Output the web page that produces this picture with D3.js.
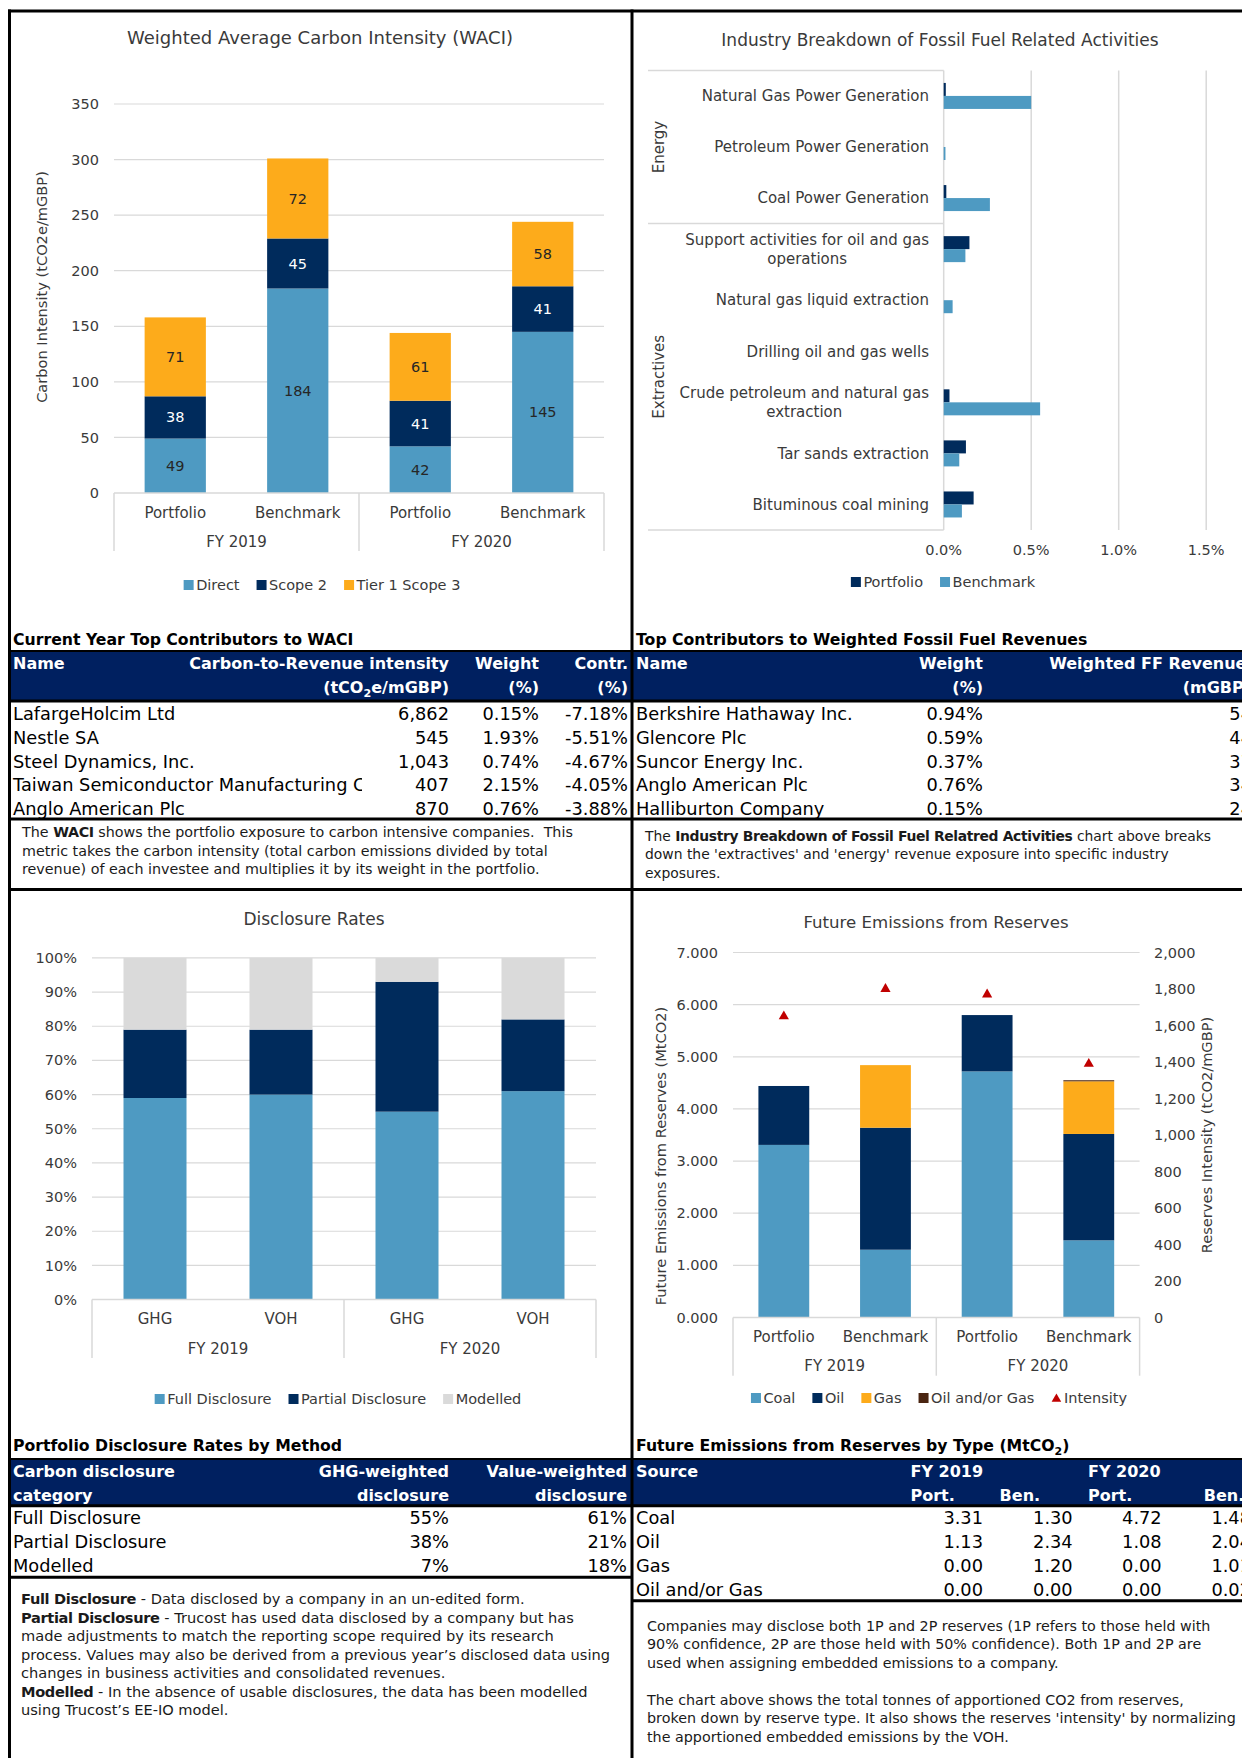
<!DOCTYPE html>
<html>
<head>
<meta charset="utf-8">
<title>Carbon metrics</title>
<script src="https://cdn.jsdelivr.net/npm/d3@7/dist/d3.min.js"></script>
<style>
  body { margin: 0; background: #fff; }
  svg { display: block; }
  text { white-space: pre; }
</style>
</head>
<body>
<script>
// ---------- chart values ----------
var waciGroups = ["FY 2019", "FY 2020"];
var waciBars = ["Portfolio", "Benchmark", "Portfolio", "Benchmark"];
var waciSeries = ["Direct", "Scope 2", "Tier 1 Scope 3"];
var waciDirect = [49, 184, 42, 145];
var waciScope2 = [38, 45, 41, 41];
var waciScope3 = [71, 72, 61, 58];

var industryLabels = ["Natural Gas Power Generation", "Petroleum Power Generation", "Coal Power Generation",
  "Support activities for oil and gas operations", "Natural gas liquid extraction", "Drilling oil and gas wells",
  "Crude petroleum and natural gas extraction", "Tar sands extraction", "Bituminous coal mining"];
var industryGroups = ["Energy", "Extractives"];
var industryGroupSize = [3, 6];
var industrySeries = ["Portfolio", "Benchmark"];
var industryPortfolio = [0.012, 0, 0.015, 0.147, 0, 0, 0.033, 0.127, 0.171];
var industryBenchmark = [0.50, 0.01, 0.264, 0.124, 0.051, 0, 0.551, 0.089, 0.104];
var industryTicks = [0, 0.5, 1.0, 1.5];

var discGroups = ["FY 2019", "FY 2020"];
var discBars = ["GHG", "VOH", "GHG", "VOH"];
var discSeries = ["Full Disclosure", "Partial Disclosure", "Modelled"];
var discFull = [59, 60, 55, 61];
var discPartial = [20, 19, 38, 21];
var discModelled = [21, 21, 7, 18];

var resGroups = ["FY 2019", "FY 2020"];
var resBars = ["Portfolio", "Benchmark", "Portfolio", "Benchmark"];
var resSeries = ["Coal", "Oil", "Gas", "Oil and/or Gas"];
var resCoal = [3.31, 1.30, 4.72, 1.48];
var resOil = [1.13, 2.34, 1.08, 2.04];
var resGas = [0.00, 1.20, 0.00, 1.01];
var resOilGas = [0.00, 0.00, 0.00, 0.02];
var resIntensity = [1650, 1800, 1770, 1390];

// ---------- table values ----------
var waciTopNames = ["LafargeHolcim Ltd", "Nestle SA", "Steel Dynamics, Inc.", "Taiwan Semiconductor Manufacturing Co., Ltd.", "Anglo American Plc"];
var waciTopIntensity = ["6,862", "545", "1,043", "407", "870"];
var waciTopWeight = ["0.15%", "1.93%", "0.74%", "2.15%", "0.76%"];
var waciTopContr = ["-7.18%", "-5.51%", "-4.67%", "-4.05%", "-3.88%"];

var ffNames = ["Berkshire Hathaway Inc.", "Glencore Plc", "Suncor Energy Inc.", "Anglo American Plc", "Halliburton Company"];
var ffWeight = ["0.94%", "0.59%", "0.37%", "0.76%", "0.15%"];
var ffRevenue = ["54", "44", "37", "34", "24"];

var discCategories = ["Full Disclosure", "Partial Disclosure", "Modelled"];
var discGhgWeighted = ["55%", "38%", "7%"];
var discValueWeighted = ["61%", "21%", "18%"];

// ---------- page ----------
var W = 1242, H = 1758;
var ink = "#3a3a3a", gridCol = "#D9D9D9";
var cBlue = "#4E9AC2", cNavy = "#002B5C", cOrange = "#FDAB1B", cGrey = "#DADADA",
    cBrown = "#4A2511", cRed = "#C00000", cHead = "#002060";
var axisSize = 15, legendSize = 14.5, bodySize = 17.8, noteSize = 14.3;

var svg = d3.select("body").append("svg")
  .attr("width", W).attr("height", H)
  .style("font-family", '"DejaVu Sans", sans-serif');
svg.append("rect").attr("width", W).attr("height", H).attr("fill", "#fff");

function label(g, x, y, s, size, opt) {
  opt = opt || {};
  var t = g.append("text").attr("x", x).attr("y", y).attr("dy", "0.35em")
    .attr("font-size", size).attr("fill", opt.fill || ink)
    .attr("text-anchor", opt.anchor || "start");
  if (opt.bold) t.attr("font-weight", "bold");
  if (opt.rotate) t.attr("transform", "rotate(-90," + x + "," + y + ")");
  if (typeof s === "string") t.text(s); else parts(t, s);
  return t;
}

// parts: list of [text, kind] where kind "sub" = subscript, "b" = bold
function parts(t, list) {
  var shift = 0;
  list.forEach(function (p) {
    var ts = t.append("tspan").text(p[0]);
    if (p[1] === "sub") { ts.attr("dy", 4).attr("font-size", "0.7em"); shift = 4; }
    else if (shift) { ts.attr("dy", -shift); shift = 0; }
    if (p[1] === "b") ts.attr("font-weight", "bold").attr("letter-spacing", -0.35);
  });
}

function legend(cx, cy, items) {
  var g = svg.append("g");
  var pos = 0;
  items.forEach(function (it) {
    var ig = g.append("g").attr("transform", "translate(" + pos + ",0)");
    if (it.tri) {
      ig.append("path").attr("d", d3.symbol(d3.symbolTriangle, 40)())
        .attr("transform", "translate(5,1)").attr("fill", it.color);
    } else {
      ig.append("rect").attr("x", 0).attr("y", -5).attr("width", 10).attr("height", 10).attr("fill", it.color);
    }
    var t = label(ig, 12.5, 0, it.name, legendSize);
    pos += 12.5 + t.node().getComputedTextLength() + 17;
  });
  g.attr("transform", "translate(" + (cx - (pos - 17) / 2) + "," + cy + ")");
}

function stackedColumns(c) {
  var g = svg.append("g");
  var x = d3.scaleBand().domain(d3.range(c.bars.length)).range([c.x0, c.x1])
    .paddingInner(0.5).paddingOuter(0.25);
  var y = d3.scaleLinear().domain([0, c.max]).range([c.yBase, c.yTop]);

  g.selectAll("line.grid").data(c.ticks.filter(function (d) { return d > 0; })).join("line")
    .attr("class", "grid")
    .attr("x1", c.x0).attr("x2", c.x1)
    .attr("y1", function (d) { return y(d); }).attr("y2", function (d) { return y(d); })
    .attr("stroke", gridCol).attr("stroke-width", 1.2);

  g.selectAll("text.tick").data(c.ticks).join("text")
    .attr("class", "tick")
    .attr("x", c.tickX).attr("y", function (d) { return y(d); }).attr("dy", "0.35em")
    .attr("text-anchor", "end").attr("font-size", 14.5).attr("fill", ink)
    .text(c.tickFmt);

  var rows = c.bars.map(function (b, i) {
    var o = { i: i };
    c.keys.forEach(function (k, j) { o[k] = c.values[j][i]; });
    return o;
  });
  var stacked = d3.stack().keys(c.keys)(rows);

  var layer = g.selectAll("g.layer").data(stacked).join("g")
    .attr("class", "layer")
    .attr("fill", function (d, j) { return c.colors[j]; });
  layer.selectAll("rect").data(function (d) { return d; }).join("rect")
    .attr("x", function (d) { return x(d.data.i); })
    .attr("width", x.bandwidth())
    .attr("y", function (d) { return y(d[1]); })
    .attr("height", function (d) { return y(d[0]) - y(d[1]); });

  if (c.labelFill) {
    stacked.forEach(function (s, j) {
      g.selectAll(null).data(s.filter(function (d) { return d[1] - d[0] > 0; })).join("text")
        .attr("x", function (d) { return x(d.data.i) + x.bandwidth() / 2; })
        .attr("y", function (d) { return y((d[0] + d[1]) / 2); })
        .attr("dy", "0.35em").attr("text-anchor", "middle")
        .attr("font-size", 14.5).attr("fill", c.labelFill[j])
        .text(function (d) { return d3.format("d")(d[1] - d[0]); });
    });
  }

  g.append("line").attr("x1", c.x0).attr("x2", c.x1).attr("y1", c.yBase).attr("y2", c.yBase)
    .attr("stroke", gridCol).attr("stroke-width", 1.5);
  g.selectAll("text.cat").data(c.bars).join("text")
    .attr("class", "cat")
    .attr("x", function (d, i) { return x(i) + x.bandwidth() / 2; })
    .attr("y", c.catY).attr("dy", "0.35em").attr("text-anchor", "middle")
    .attr("font-size", axisSize).attr("fill", ink).text(function (d) { return d; });

  var span = (c.x1 - c.x0) / c.groups.length;
  g.selectAll("text.grp").data(c.groups).join("text")
    .attr("class", "grp")
    .attr("x", function (d, i) { return c.x0 + span * (i + 0.5); })
    .attr("y", c.grpY).attr("dy", "0.35em").attr("text-anchor", "middle")
    .attr("font-size", axisSize).attr("fill", ink).text(function (d) { return d; });
  g.selectAll("line.sep").data(d3.range(c.groups.length + 1)).join("line")
    .attr("class", "sep")
    .attr("x1", function (i) { return c.x0 + span * i; })
    .attr("x2", function (i) { return c.x0 + span * i; })
    .attr("y1", c.yBase).attr("y2", c.sepBottom)
    .attr("stroke", gridCol).attr("stroke-width", 1.5);

  return { g: g, x: x, y: y };
}

// ---------- WACI ----------
var waci = stackedColumns({
  x0: 114, x1: 604, yBase: 493, yTop: 104, max: 350,
  ticks: d3.range(0, 351, 50), tickFmt: d3.format("d"), tickX: 99,
  bars: waciBars, groups: waciGroups, keys: waciSeries,
  values: [waciDirect, waciScope2, waciScope3],
  colors: [cBlue, cNavy, cOrange], labelFill: ["#262626", "#fff", "#262626"],
  catY: 513, grpY: 542, sepBottom: 551
});
label(svg, 320, 38, "Weighted Average Carbon Intensity (WACI)", 18, { anchor: "middle" });
label(svg, 42, 287, "Carbon Intensity (tCO2e/mGBP)", 14.6, { anchor: "middle", rotate: true });
legend(322, 585, waciSeries.map(function (s, i) { return { name: s, color: [cBlue, cNavy, cOrange][i] }; }));

// ---------- Industry breakdown ----------
var ind = svg.append("g");
var iy = d3.scaleBand().domain(d3.range(industryLabels.length)).range([70.4, 530]);
var ix = d3.scaleLinear().domain([0, 1.5]).range([943.7, 1206.2]);
var barH = 13;

ind.selectAll("line.grid").data(industryTicks).join("line")
  .attr("class", "grid")
  .attr("x1", function (d) { return ix(d); }).attr("x2", function (d) { return ix(d); })
  .attr("y1", 70.4).attr("y2", 530)
  .attr("stroke", gridCol).attr("stroke-width", 1.5);

var bounds = [0].concat(Array.from(d3.cumsum(industryGroupSize)));
ind.selectAll("line.frame").data(bounds).join("line")
  .attr("class", "frame")
  .attr("x1", 648).attr("x2", ix(0))
  .attr("y1", function (k) { return 70.4 + k * iy.step(); })
  .attr("y2", function (k) { return 70.4 + k * iy.step(); })
  .attr("stroke", gridCol).attr("stroke-width", 1.5);

ind.selectAll("text.tick").data(industryTicks).join("text")
  .attr("class", "tick")
  .attr("x", function (d) { return ix(d); }).attr("y", 550).attr("dy", "0.35em")
  .attr("text-anchor", "middle").attr("font-size", 14.5).attr("fill", ink)
  .text(function (d) { return d3.format(".1f")(d) + "%"; });

ind.selectAll("rect.port").data(industryPortfolio).join("rect")
  .attr("class", "port")
  .attr("x", ix(0)).attr("y", function (d, i) { return iy(i) + iy.bandwidth() / 2 - barH; })
  .attr("width", function (d) { return ix(d) - ix(0); }).attr("height", barH)
  .attr("fill", cNavy);
ind.selectAll("rect.bench").data(industryBenchmark).join("rect")
  .attr("class", "bench")
  .attr("x", ix(0)).attr("y", function (d, i) { return iy(i) + iy.bandwidth() / 2; })
  .attr("width", function (d) { return ix(d) - ix(0); }).attr("height", barH)
  .attr("fill", cBlue);

// category labels, wrapped at 265px and centred on their widest line
industryLabels.forEach(function (name, i) {
  var cy = iy(i) + iy.bandwidth() / 2;
  var probe = label(ind, 0, 0, "", axisSize);
  var words = name.split(" "), lines = [], cur = "";
  words.forEach(function (w) {
    var test = cur ? cur + " " + w : w;
    probe.text(test);
    if (probe.node().getComputedTextLength() > 265 && cur) { lines.push(cur); cur = w; }
    else cur = test;
  });
  lines.push(cur);
  probe.text(lines[0]);
  var wMax = probe.node().getComputedTextLength();
  probe.remove();
  if (lines.length === 1) {
    label(ind, 929, cy, name, axisSize, { anchor: "end" });
  } else {
    lines.forEach(function (ln, k) {
      label(ind, 929 - wMax / 2, cy + (k - (lines.length - 1) / 2) * 19, ln, axisSize, { anchor: "middle" });
    });
  }
});

industryGroups.forEach(function (gname, k) {
  var mid = 70.4 + (bounds[k] + bounds[k + 1]) / 2 * iy.step();
  label(ind, 659, mid, gname, axisSize, { anchor: "middle", rotate: true });
});
label(svg, 940, 40, "Industry Breakdown of Fossil Fuel Related Activities", 17, { anchor: "middle" });
legend(943, 582, industrySeries.map(function (s, i) { return { name: s, color: [cNavy, cBlue][i] }; }));

// ---------- Disclosure rates ----------
stackedColumns({
  x0: 92, x1: 596, yBase: 1299.6, yTop: 957.9, max: 100,
  ticks: d3.range(0, 101, 10), tickFmt: function (d) { return d + "%"; }, tickX: 77,
  bars: discBars, groups: discGroups, keys: discSeries,
  values: [discFull, discPartial, discModelled],
  colors: [cBlue, cNavy, cGrey], labelFill: null,
  catY: 1319, grpY: 1348.6, sepBottom: 1358
});
label(svg, 314, 919, "Disclosure Rates", 17, { anchor: "middle" });
legend(338, 1399, discSeries.map(function (s, i) { return { name: s, color: [cBlue, cNavy, cGrey][i] }; }));

// ---------- Future emissions from reserves ----------
var res = stackedColumns({
  x0: 733, x1: 1139.6, yBase: 1317.5, yTop: 952.5, max: 7,
  ticks: d3.range(0, 8), tickFmt: d3.format(".3f"), tickX: 718,
  bars: resBars, groups: resGroups, keys: resSeries,
  values: [resCoal, resOil, resGas, resOilGas],
  colors: [cBlue, cNavy, cOrange, cBrown], labelFill: null,
  catY: 1337, grpY: 1365.7, sepBottom: 1375.7
});
var yR = d3.scaleLinear().domain([0, 2000]).range([1317.5, 952.5]);
res.g.selectAll("text.rtick").data(d3.range(0, 2001, 200)).join("text")
  .attr("class", "rtick")
  .attr("x", 1154).attr("y", function (d) { return yR(d); }).attr("dy", "0.35em")
  .attr("font-size", 14.5).attr("fill", ink).text(d3.format(","));
res.g.selectAll("path.tri").data(resIntensity).join("path")
  .attr("class", "tri")
  .attr("d", d3.symbol(d3.symbolTriangle, 45)())
  .attr("transform", function (d, i) { return "translate(" + (res.x(i) + res.x.bandwidth() / 2) + "," + yR(d) + ")"; })
  .attr("fill", cRed);
label(svg, 936, 922, "Future Emissions from Reserves", 16.6, { anchor: "middle" });
label(svg, 661, 1156, "Future Emissions from Reserves (MtCO2)", 14.6, { anchor: "middle", rotate: true });
label(svg, 1207, 1135, "Reserves Intensity (tCO2/mGBP)", 14.6, { anchor: "middle", rotate: true });
legend(939, 1398, resSeries.map(function (s, i) { return { name: s, color: [cBlue, cNavy, cOrange, cBrown][i] }; })
  .concat([{ name: "Intensity", color: cRed, tri: true }]));

// ---------- tables ----------
function rule(x0, x1, y, w) {
  svg.append("line").attr("x1", x0).attr("x2", x1).attr("y1", y).attr("y2", y)
    .attr("stroke", "#000").attr("stroke-width", w);
}

function table(c) {
  var g = svg.append("g");
  label(g, c.x0 + 4, c.titleY, c.title, 15.7, { bold: true, fill: "#000" });
  g.append("rect").attr("x", c.x0).attr("y", c.headTop).attr("width", c.x1 - c.x0)
    .attr("height", c.headBottom - c.headTop).attr("fill", cHead);
  c.head.forEach(function (h) {
    label(g, h.x, c.headTop + 12 + 24 * h.line, h.text, 16, { bold: true, fill: "#fff", anchor: h.anchor });
  });
  c.cols.forEach(function (col) {
    var cg = g.append("g");
    if (col.clip) {
      var id = "clip" + Math.round(col.x);
      g.append("clipPath").attr("id", id).append("rect")
        .attr("x", c.x0).attr("y", c.headBottom).attr("width", col.clip - c.x0).attr("height", 200);
      cg.attr("clip-path", "url(#" + id + ")");
    }
    cg.selectAll("text").data(col.values).join("text")
      .attr("x", col.x).attr("y", function (d, i) { return c.headBottom + 12.5 + i * 23.9; })
      .attr("dy", "0.35em").attr("text-anchor", col.anchor || "end")
      .attr("font-size", bodySize).attr("fill", "#000").text(function (d) { return d; });
  });
  rule(c.x0, c.x1, c.headTop, 2);
  rule(c.x0, c.x1, c.headBottom, 3);
  rule(c.x0, c.x1, c.bottom, 3);
}

table({
  x0: 9, x1: 632, titleY: 639.5, title: "Current Year Top Contributors to WACI",
  headTop: 651, headBottom: 701, bottom: 819,
  head: [
    { text: "Name", x: 13, line: 0, anchor: "start" },
    { text: "Carbon-to-Revenue intensity", x: 449, line: 0, anchor: "end" },
    { text: [["(tCO"], ["2", "sub"], ["e/mGBP)"]], x: 449, line: 1, anchor: "end" },
    { text: "Weight", x: 539, line: 0, anchor: "end" },
    { text: "(%)", x: 539, line: 1, anchor: "end" },
    { text: "Contr.", x: 628, line: 0, anchor: "end" },
    { text: "(%)", x: 628, line: 1, anchor: "end" }
  ],
  cols: [
    { values: waciTopNames, x: 13, anchor: "start", clip: 362 },
    { values: waciTopIntensity, x: 449 },
    { values: waciTopWeight, x: 539 },
    { values: waciTopContr, x: 628 }
  ]
});

table({
  x0: 632, x1: 1242, titleY: 639.5, title: "Top Contributors to Weighted Fossil Fuel Revenues",
  headTop: 651, headBottom: 701, bottom: 819,
  head: [
    { text: "Name", x: 636, line: 0, anchor: "start" },
    { text: "Weight", x: 983, line: 0, anchor: "end" },
    { text: "(%)", x: 983, line: 1, anchor: "end" },
    { text: "Weighted FF Revenues", x: 1256, line: 0, anchor: "end" },
    { text: "(mGBP)", x: 1251, line: 1, anchor: "end" }
  ],
  cols: [
    { values: ffNames, x: 636, anchor: "start" },
    { values: ffWeight, x: 983 },
    { values: ffRevenue, x: 1252 }
  ]
});

table({
  x0: 9, x1: 632, titleY: 1445.5, title: "Portfolio Disclosure Rates by Method",
  headTop: 1459, headBottom: 1505.7, bottom: 1577.3,
  head: [
    { text: "Carbon disclosure", x: 13, line: 0, anchor: "start" },
    { text: "category", x: 13, line: 1, anchor: "start" },
    { text: "GHG-weighted", x: 449, line: 0, anchor: "end" },
    { text: "disclosure", x: 449, line: 1, anchor: "end" },
    { text: "Value-weighted", x: 627, line: 0, anchor: "end" },
    { text: "disclosure", x: 627, line: 1, anchor: "end" }
  ],
  cols: [
    { values: discCategories, x: 13, anchor: "start" },
    { values: discGhgWeighted, x: 449 },
    { values: discValueWeighted, x: 627 }
  ]
});

var f2 = d3.format(".2f");
table({
  x0: 632, x1: 1242, titleY: 1445.5,
  title: [["Future Emissions from Reserves by Type (MtCO"], ["2", "sub"], [")"]],
  headTop: 1459, headBottom: 1505.7, bottom: 1600.7,
  head: [
    { text: "Source", x: 636, line: 0, anchor: "start" },
    { text: "FY 2019", x: 910.5, line: 0, anchor: "start" },
    { text: "FY 2020", x: 1088, line: 0, anchor: "start" },
    { text: "Port.", x: 910.5, line: 1, anchor: "start" },
    { text: "Ben.", x: 999.6, line: 1, anchor: "start" },
    { text: "Port.", x: 1088, line: 1, anchor: "start" },
    { text: "Ben.", x: 1203.8, line: 1, anchor: "start" }
  ],
  cols: [
    { values: resSeries, x: 636, anchor: "start" },
    { values: [resCoal[0], resOil[0], resGas[0], resOilGas[0]].map(f2), x: 983 },
    { values: [resCoal[1], resOil[1], resGas[1], resOilGas[1]].map(f2), x: 1072.7 },
    { values: [resCoal[2], resOil[2], resGas[2], resOilGas[2]].map(f2), x: 1161.7 },
    { values: [resCoal[3], resOil[3], resGas[3], resOilGas[3]].map(f2), x: 1251 }
  ]
});

// ---------- notes ----------
function para(x, y0, lines, size) {
  var g = svg.append("g");
  lines.forEach(function (segs, i) {
    if (!segs.length) return;
    label(g, x, y0 + i * 18.5, segs, size || noteSize, { fill: "#1a1a1a" });
  });
}

para(22, 832, [
  [["The "], ["WACI", "b"], [" shows the portfolio exposure to carbon intensive companies.  This"]],
  [["metric takes the carbon intensity (total carbon emissions divided by total"]],
  [["revenue) of each investee and multiplies it by its weight in the portfolio."]]
]);
para(645, 836, [
  [["The "], ["Industry Breakdown of Fossil Fuel Relatred Activities", "b"], [" chart above breaks"]],
  [["down the 'extractives' and 'energy' revenue exposure into specific industry"]],
  [["exposures."]]
], 13.9);
para(21, 1599, [
  [["Full Disclosure", "b"], [" - Data disclosed by a company in an un-edited form."]],
  [["Partial Disclosure", "b"], [" - Trucost has used data disclosed by a company but has"]],
  [["made adjustments to match the reporting scope required by its research"]],
  [["process. Values may also be derived from a previous year\u2019s disclosed data using"]],
  [["changes in business activities and consolidated revenues."]],
  [["Modelled", "b"], [" - In the absence of usable disclosures, the data has been modelled"]],
  [["using Trucost\u2019s EE-IO model."]]
], 14.6);
para(647, 1625.7, [
  [["Companies may disclose both 1P and 2P reserves (1P refers to those held with"]],
  [["90% confidence, 2P are those held with 50% confidence). Both 1P and 2P are"]],
  [["used when assigning embedded emissions to a company."]],
  [],
  [["The chart above shows the total tonnes of apportioned CO2 from reserves,"]],
  [["broken down by reserve type. It also shows the reserves 'intensity' by normalizing"]],
  [["the apportioned embedded emissions by the VOH."]]
]);

// ---------- panel borders ----------
rule(8, W, 11, 3);
rule(8, W, 889.5, 3);
svg.append("line").attr("x1", 9.5).attr("x2", 9.5).attr("y1", 9.5).attr("y2", H)
  .attr("stroke", "#000").attr("stroke-width", 3);
svg.append("line").attr("x1", 632).attr("x2", 632).attr("y1", 9.5).attr("y2", H)
  .attr("stroke", "#000").attr("stroke-width", 3);
</script>
</body>
</html>
